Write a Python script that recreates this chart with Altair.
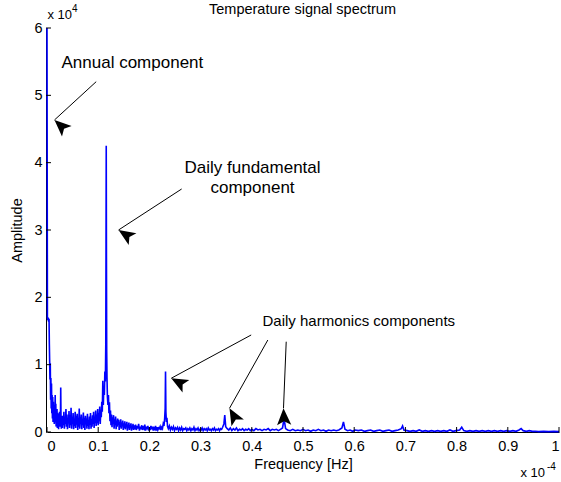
import math
import altair as alt
import pandas as pd

# ---------------- data (frequency in 1e-4 Hz, amplitude in 1e4) ----------------
band_low = [
    (0.0000, 6.00), (0.0008, 1.70), (0.0016, 1.66), (0.0024, 1.70), (0.0032, 1.64),
    (0.0040, 1.68), (0.0046, 1.30), (0.0052, 1.05), (0.0058, 0.78), (0.0064, 1.02),
    (0.0070, 0.48), (0.0076, 0.80), (0.0082, 0.35), (0.0088, 0.72), (0.0094, 0.28),
    (0.0100, 0.55), (0.0106, 0.20), (0.0112, 0.52), (0.0118, 0.15), (0.0124, 0.45),
    (0.0130, 0.22), (0.0136, 0.40), (0.0142, 0.12), (0.0148, 0.35), (0.0154, 0.18),
    (0.0160, 0.55), (0.0166, 0.14), (0.0172, 0.42), (0.0178, 0.08), (0.0184, 0.30),
    (0.0190, 0.15), (0.0196, 0.34), (0.0202, 0.06), (0.0208, 0.25), (0.0214, 0.10),
    (0.0220, 0.28), (0.0226, 0.04), (0.0232, 0.22), (0.0238, 0.12), (0.0244, 0.30),
    (0.0250, 0.08), (0.0256, 0.20), (0.0262, 0.14), (0.0268, 0.66), (0.0274, 0.18),
    (0.0280, 0.05), (0.0286, 0.24), (0.0292, 0.10),
]

band_pre_daily = [
    (0.030, 0.06), (0.031, 0.24), (0.032, 0.10), (0.033, 0.30), (0.034, 0.05),
    (0.035, 0.22), (0.036, 0.12), (0.037, 0.34), (0.038, 0.08), (0.039, 0.26),
    (0.040, 0.04), (0.041, 0.20), (0.042, 0.14), (0.043, 0.31), (0.044, 0.06),
    (0.045, 0.25), (0.046, 0.10), (0.047, 0.36), (0.048, 0.05), (0.049, 0.21),
    (0.050, 0.12), (0.051, 0.28), (0.052, 0.04), (0.053, 0.18), (0.054, 0.09),
    (0.055, 0.30), (0.056, 0.06), (0.057, 0.24), (0.058, 0.11), (0.059, 0.27),
    (0.060, 0.03), (0.061, 0.19), (0.062, 0.08), (0.063, 0.35), (0.064, 0.05),
    (0.065, 0.22), (0.066, 0.13), (0.067, 0.26), (0.068, 0.04), (0.069, 0.18),
    (0.070, 0.10), (0.071, 0.29), (0.072, 0.06), (0.073, 0.21), (0.074, 0.03),
    (0.075, 0.24), (0.076, 0.12), (0.077, 0.20), (0.078, 0.05), (0.079, 0.27),
    (0.080, 0.09), (0.081, 0.17), (0.082, 0.04), (0.083, 0.23), (0.084, 0.11),
    (0.085, 0.28), (0.086, 0.05), (0.087, 0.19), (0.088, 0.08), (0.089, 0.25),
    (0.090, 0.12), (0.091, 0.30), (0.092, 0.06), (0.093, 0.22), (0.094, 0.14),
    (0.095, 0.32), (0.096, 0.09), (0.097, 0.26), (0.098, 0.13), (0.099, 0.34),
    (0.100, 0.10), (0.101, 0.28), (0.102, 0.16), (0.103, 0.38), (0.104, 0.12),
    (0.105, 0.33), (0.106, 0.22), (0.107, 0.45), (0.108, 0.30), (0.109, 0.76),
    (0.110, 0.40), (0.111, 0.68), (0.112, 0.55), (0.113, 0.90), (0.114, 0.75),
    (0.1148, 1.30), (0.1153, 2.80),
]

band_daily = [
    (0.1157, 4.25), (0.1161, 2.60), (0.1166, 1.20), (0.1172, 0.80), (0.1180, 0.52),
    (0.1190, 0.40), (0.1200, 0.55), (0.1210, 0.28), (0.1220, 0.44), (0.1230, 0.16),
    (0.1240, 0.32), (0.1250, 0.10), (0.1260, 0.26), (0.1270, 0.07), (0.1280, 0.22),
    (0.1290, 0.12), (0.1300, 0.25), (0.1310, 0.05), (0.1320, 0.19), (0.1330, 0.10),
    (0.1340, 0.23), (0.1350, 0.04), (0.1360, 0.17), (0.1370, 0.08), (0.1380, 0.20),
    (0.1390, 0.11), (0.1400, 0.18), (0.1410, 0.03), (0.1420, 0.15), (0.1430, 0.07),
    (0.1440, 0.19), (0.1450, 0.05), (0.1460, 0.14), (0.1470, 0.09), (0.1480, 0.17),
    (0.1490, 0.03), (0.1500, 0.13), (0.1510, 0.06), (0.1520, 0.16), (0.1530, 0.04),
    (0.1540, 0.12), (0.1550, 0.08), (0.1560, 0.15), (0.1570, 0.02), (0.1580, 0.11),
    (0.1590, 0.06), (0.1600, 0.14), (0.1610, 0.03), (0.1620, 0.10), (0.1630, 0.07),
    (0.1640, 0.13), (0.1650, 0.02), (0.1660, 0.09), (0.1670, 0.05), (0.1680, 0.12),
    (0.1690, 0.03), (0.1700, 0.10), (0.1715, 0.04), (0.1730, 0.11), (0.1745, 0.03),
    (0.1760, 0.09), (0.1775, 0.05), (0.1790, 0.12), (0.1805, 0.02), (0.1820, 0.08),
    (0.1835, 0.04), (0.1850, 0.10), (0.1865, 0.03), (0.1880, 0.07), (0.1895, 0.05),
    (0.1910, 0.11), (0.1925, 0.02), (0.1940, 0.08), (0.1955, 0.04), (0.1970, 0.09),
    (0.1985, 0.02), (0.2000, 0.07), (0.2015, 0.03), (0.2030, 0.09), (0.2045, 0.04),
    (0.2060, 0.08), (0.2075, 0.02), (0.2090, 0.06), (0.2105, 0.04), (0.2120, 0.09),
    (0.2135, 0.02), (0.2150, 0.07), (0.2165, 0.03), (0.2180, 0.06), (0.2195, 0.05),
    (0.2210, 0.08), (0.2225, 0.03), (0.2240, 0.07), (0.2255, 0.05), (0.2270, 0.12),
    (0.2285, 0.09), (0.2298, 0.20), (0.2308, 0.35),
]

band_harmonic2 = [
    (0.2315, 0.90), (0.2322, 0.30), (0.2332, 0.15), (0.2342, 0.21), (0.2355, 0.08),
    (0.237, 0.05), (0.239, 0.09), (0.241, 0.03), (0.243, 0.07), (0.245, 0.04),
    (0.247, 0.08), (0.249, 0.02), (0.251, 0.06), (0.253, 0.04), (0.255, 0.07),
    (0.257, 0.02), (0.259, 0.06), (0.261, 0.03), (0.263, 0.07), (0.265, 0.02),
    (0.267, 0.05), (0.269, 0.04), (0.271, 0.06), (0.273, 0.02), (0.275, 0.05),
    (0.277, 0.03), (0.279, 0.06), (0.281, 0.02), (0.283, 0.05), (0.285, 0.03),
    (0.287, 0.07), (0.289, 0.02), (0.291, 0.05), (0.293, 0.03), (0.295, 0.06),
    (0.297, 0.02), (0.299, 0.04), (0.301, 0.03), (0.303, 0.06), (0.305, 0.02),
    (0.307, 0.05), (0.309, 0.03), (0.311, 0.05), (0.313, 0.02), (0.315, 0.06),
    (0.317, 0.03), (0.319, 0.04), (0.321, 0.02), (0.323, 0.05), (0.325, 0.03),
    (0.327, 0.06), (0.329, 0.02), (0.331, 0.04), (0.333, 0.03), (0.335, 0.05),
    (0.337, 0.02), (0.339, 0.05), (0.341, 0.04), (0.343, 0.07), (0.3455, 0.12),
]

band_high = [
    (0.3472, 0.25), (0.3490, 0.08), (0.3520, 0.05), (0.3550, 0.03), (0.3580, 0.06),
    (0.3610, 0.02), (0.3640, 0.05), (0.3670, 0.03), (0.3700, 0.06), (0.3730, 0.02),
    (0.3760, 0.04), (0.3790, 0.03), (0.3820, 0.05), (0.3850, 0.02), (0.3880, 0.04),
    (0.3910, 0.03), (0.3940, 0.05), (0.3970, 0.02), (0.4000, 0.04), (0.4040, 0.02),
    (0.4080, 0.05), (0.4120, 0.03), (0.4160, 0.04), (0.4200, 0.02), (0.4240, 0.04),
    (0.4280, 0.03), (0.4320, 0.05), (0.4360, 0.02), (0.4400, 0.04), (0.4440, 0.03),
    (0.4480, 0.04), (0.4520, 0.02), (0.4560, 0.04), (0.4600, 0.06), (0.4630, 0.20),
    (0.4660, 0.05), (0.4700, 0.03), (0.4750, 0.02), (0.4800, 0.04), (0.4850, 0.02),
    (0.4900, 0.03), (0.4950, 0.02), (0.5000, 0.04), (0.5050, 0.02), (0.5100, 0.03),
    (0.5150, 0.01), (0.5200, 0.03), (0.5250, 0.02), (0.5300, 0.04), (0.5350, 0.02),
    (0.5400, 0.03), (0.5450, 0.01), (0.5500, 0.03), (0.5550, 0.02), (0.5600, 0.03),
    (0.5650, 0.02), (0.5700, 0.03), (0.5760, 0.06), (0.5790, 0.15), (0.5820, 0.04),
    (0.5870, 0.02), (0.5920, 0.03), (0.5970, 0.01), (0.6020, 0.03), (0.6080, 0.02),
    (0.6140, 0.03), (0.6200, 0.01), (0.6260, 0.02), (0.6320, 0.03), (0.6380, 0.01),
    (0.6440, 0.02), (0.6500, 0.03), (0.6560, 0.01), (0.6620, 0.02), (0.6680, 0.03),
    (0.6740, 0.01), (0.6800, 0.02), (0.6860, 0.03), (0.6920, 0.05), (0.6945, 0.09),
    (0.6970, 0.03), (0.7030, 0.02), (0.7090, 0.01), (0.7150, 0.02), (0.7210, 0.01),
    (0.7270, 0.03), (0.7330, 0.01), (0.7390, 0.02), (0.7450, 0.01), (0.7510, 0.02),
    (0.7570, 0.01), (0.7630, 0.02), (0.7690, 0.01), (0.7750, 0.02), (0.7810, 0.01),
    (0.7870, 0.03), (0.7930, 0.01), (0.7990, 0.02), (0.8060, 0.03), (0.8100, 0.07),
    (0.8140, 0.02), (0.8200, 0.01), (0.8260, 0.02), (0.8320, 0.01), (0.8380, 0.02),
    (0.8440, 0.01), (0.8500, 0.02), (0.8560, 0.01), (0.8620, 0.02), (0.8680, 0.01),
    (0.8740, 0.02), (0.8800, 0.01), (0.8860, 0.02), (0.8920, 0.01), (0.8980, 0.02),
    (0.9040, 0.01), (0.9100, 0.02), (0.9160, 0.01), (0.9220, 0.03), (0.9260, 0.05),
    (0.9300, 0.02), (0.9360, 0.01), (0.9420, 0.02), (0.9480, 0.01), (0.9540, 0.01),
    (0.9600, 0.005), (0.9700, 0.01), (0.9800, 0.005), (0.9900, 0.01), (1.0000, 0.005),
]

x_ticks = [0, 0.1, 0.2, 0.3, 0.4, 0.5, 0.6, 0.7, 0.8, 0.9, 1]
y_ticks = [0, 1, 2, 3, 4, 5, 6]

# annotation texts (positions in data units)
label_text = ["Temperature signal spectrum", "Annual component", "Daily fundamental",
              "component", "Daily harmonics components", "x 10", "4", "x 10", "-4"]
label_x = [0.499, 0.0283, 0.4014, 0.4014, 0.4209, 0.001, 0.0488, 0.9248, 0.9766]
label_y = [6.268, 5.480, 3.921, 3.624, 1.649, 6.193, 6.275, -0.609, -0.520]
label_size = [14.5, 17, 17, 17, 15, 13, 10, 13, 10]
label_align = ["center", "left", "center", "center", "left", "left", "left", "left", "left"]

# arrows: tail -> tip (data units)
arrow_x0 = [0.0961, 0.2630, 0.3988, 0.4313, 0.4672]
arrow_y0 = [5.203, 3.609, 1.441, 1.366, 1.341]
arrow_x1 = [0.0146, 0.1397, 0.2426, 0.3564, 0.4619]
arrow_y1 = [4.634, 3.000, 0.798, 0.352, 0.352]

# ---------------- chart ----------------
W, H = 512, 404
XMAX, YMAX = 1.0, 6.0
FONT = "Liberation Sans"

spectrum = pd.DataFrame(band_low + band_pre_daily + band_daily + band_harmonic2 + band_high,
                        columns=["f", "a"])

xs = alt.Scale(domain=[0, XMAX], nice=False, zero=False)
ys = alt.Scale(domain=[0, YMAX], nice=False, zero=False)

AX_COMMON = dict(grid=False, tickSize=0, labelFontSize=14.5, titleFontSize=14.5,
                 titleFontWeight="normal", domainColor="black", domainWidth=1,
                 labelColor="black", titleColor="black", labelFont=FONT, titleFont=FONT,
                 format="~g", labelOverlap=False)
AX_X = alt.Axis(values=x_ticks, title="Frequency [Hz]", labelPadding=7, titlePadding=5,
                **AX_COMMON)
AX_Y = alt.Axis(values=y_ticks, title="Amplitude", labelPadding=4, titlePadding=9, offset=1,
                **AX_COMMON)

line = alt.Chart(spectrum).mark_line(color="#0000ff", strokeWidth=1.6).encode(
    x=alt.X("f:Q", scale=xs, axis=AX_X),
    y=alt.Y("a:Q", scale=ys, axis=AX_Y),
    order=alt.Order("f:Q"),
)

TICK = 5
xt = alt.Chart(pd.DataFrame({"t": x_ticks})).mark_rule(color="black", strokeWidth=1).encode(
    x=alt.X("t:Q", scale=xs, axis=AX_X),
    y=alt.value(H), y2=alt.value(H - TICK),
)
yt = alt.Chart(pd.DataFrame({"t": y_ticks})).mark_rule(color="black", strokeWidth=1).encode(
    y=alt.Y("t:Q", scale=ys, axis=AX_Y),
    x=alt.value(-1), x2=alt.value(TICK - 1),
)

labels = pd.DataFrame({"text": label_text, "x": label_x, "y": label_y,
                       "size": label_size, "align": label_align})


def text_layer(align):
    return alt.Chart(labels).transform_filter(alt.datum.align == align).mark_text(
        align=align, baseline="middle", font=FONT, color="black"
    ).encode(
        x=alt.X("x:Q", scale=xs, axis=AX_X),
        y=alt.Y("y:Q", scale=ys, axis=AX_Y),
        text="text:N",
        size=alt.Size("size:Q", scale=None, legend=None),
    )


arrows = pd.DataFrame({"x0": arrow_x0, "y0": arrow_y0, "x1": arrow_x1, "y1": arrow_y1})
px_x, px_y = W / XMAX, H / YMAX
arrows["angle"] = [
    math.degrees(math.atan2((b - a) * px_x, (c - d) * px_y)) % 360
    for a, b, c, d in zip(arrows.x0, arrows.x1, arrows.y0, arrows.y1)
]

shafts = alt.Chart(arrows).mark_rule(color="black", strokeWidth=1).encode(
    x=alt.X("x0:Q", scale=xs, axis=AX_X), y=alt.Y("y0:Q", scale=ys, axis=AX_Y),
    x2="x1:Q", y2="y1:Q",
)
heads = alt.Chart(arrows).mark_point(
    shape="M0,0 L-0.85,2 L0,1.55 L0.85,2 Z", filled=True, color="black", size=280, opacity=1
).encode(
    x=alt.X("x1:Q", scale=xs, axis=AX_X), y=alt.Y("y1:Q", scale=ys, axis=AX_Y),
    angle=alt.Angle("angle:Q", scale=None),
)

chart = alt.layer(line, xt, yt, shafts, heads, text_layer("left"), text_layer("center")).properties(
    width=W, height=H,
    padding={"left": 47, "top": 28, "right": 2, "bottom": 50},
    autosize=alt.AutoSizeParams(type="none"),
    background="white",
).configure(font=FONT).configure_view(stroke=None)

chart.save("out.html", embed_options={"renderer": "svg", "actions": False})
